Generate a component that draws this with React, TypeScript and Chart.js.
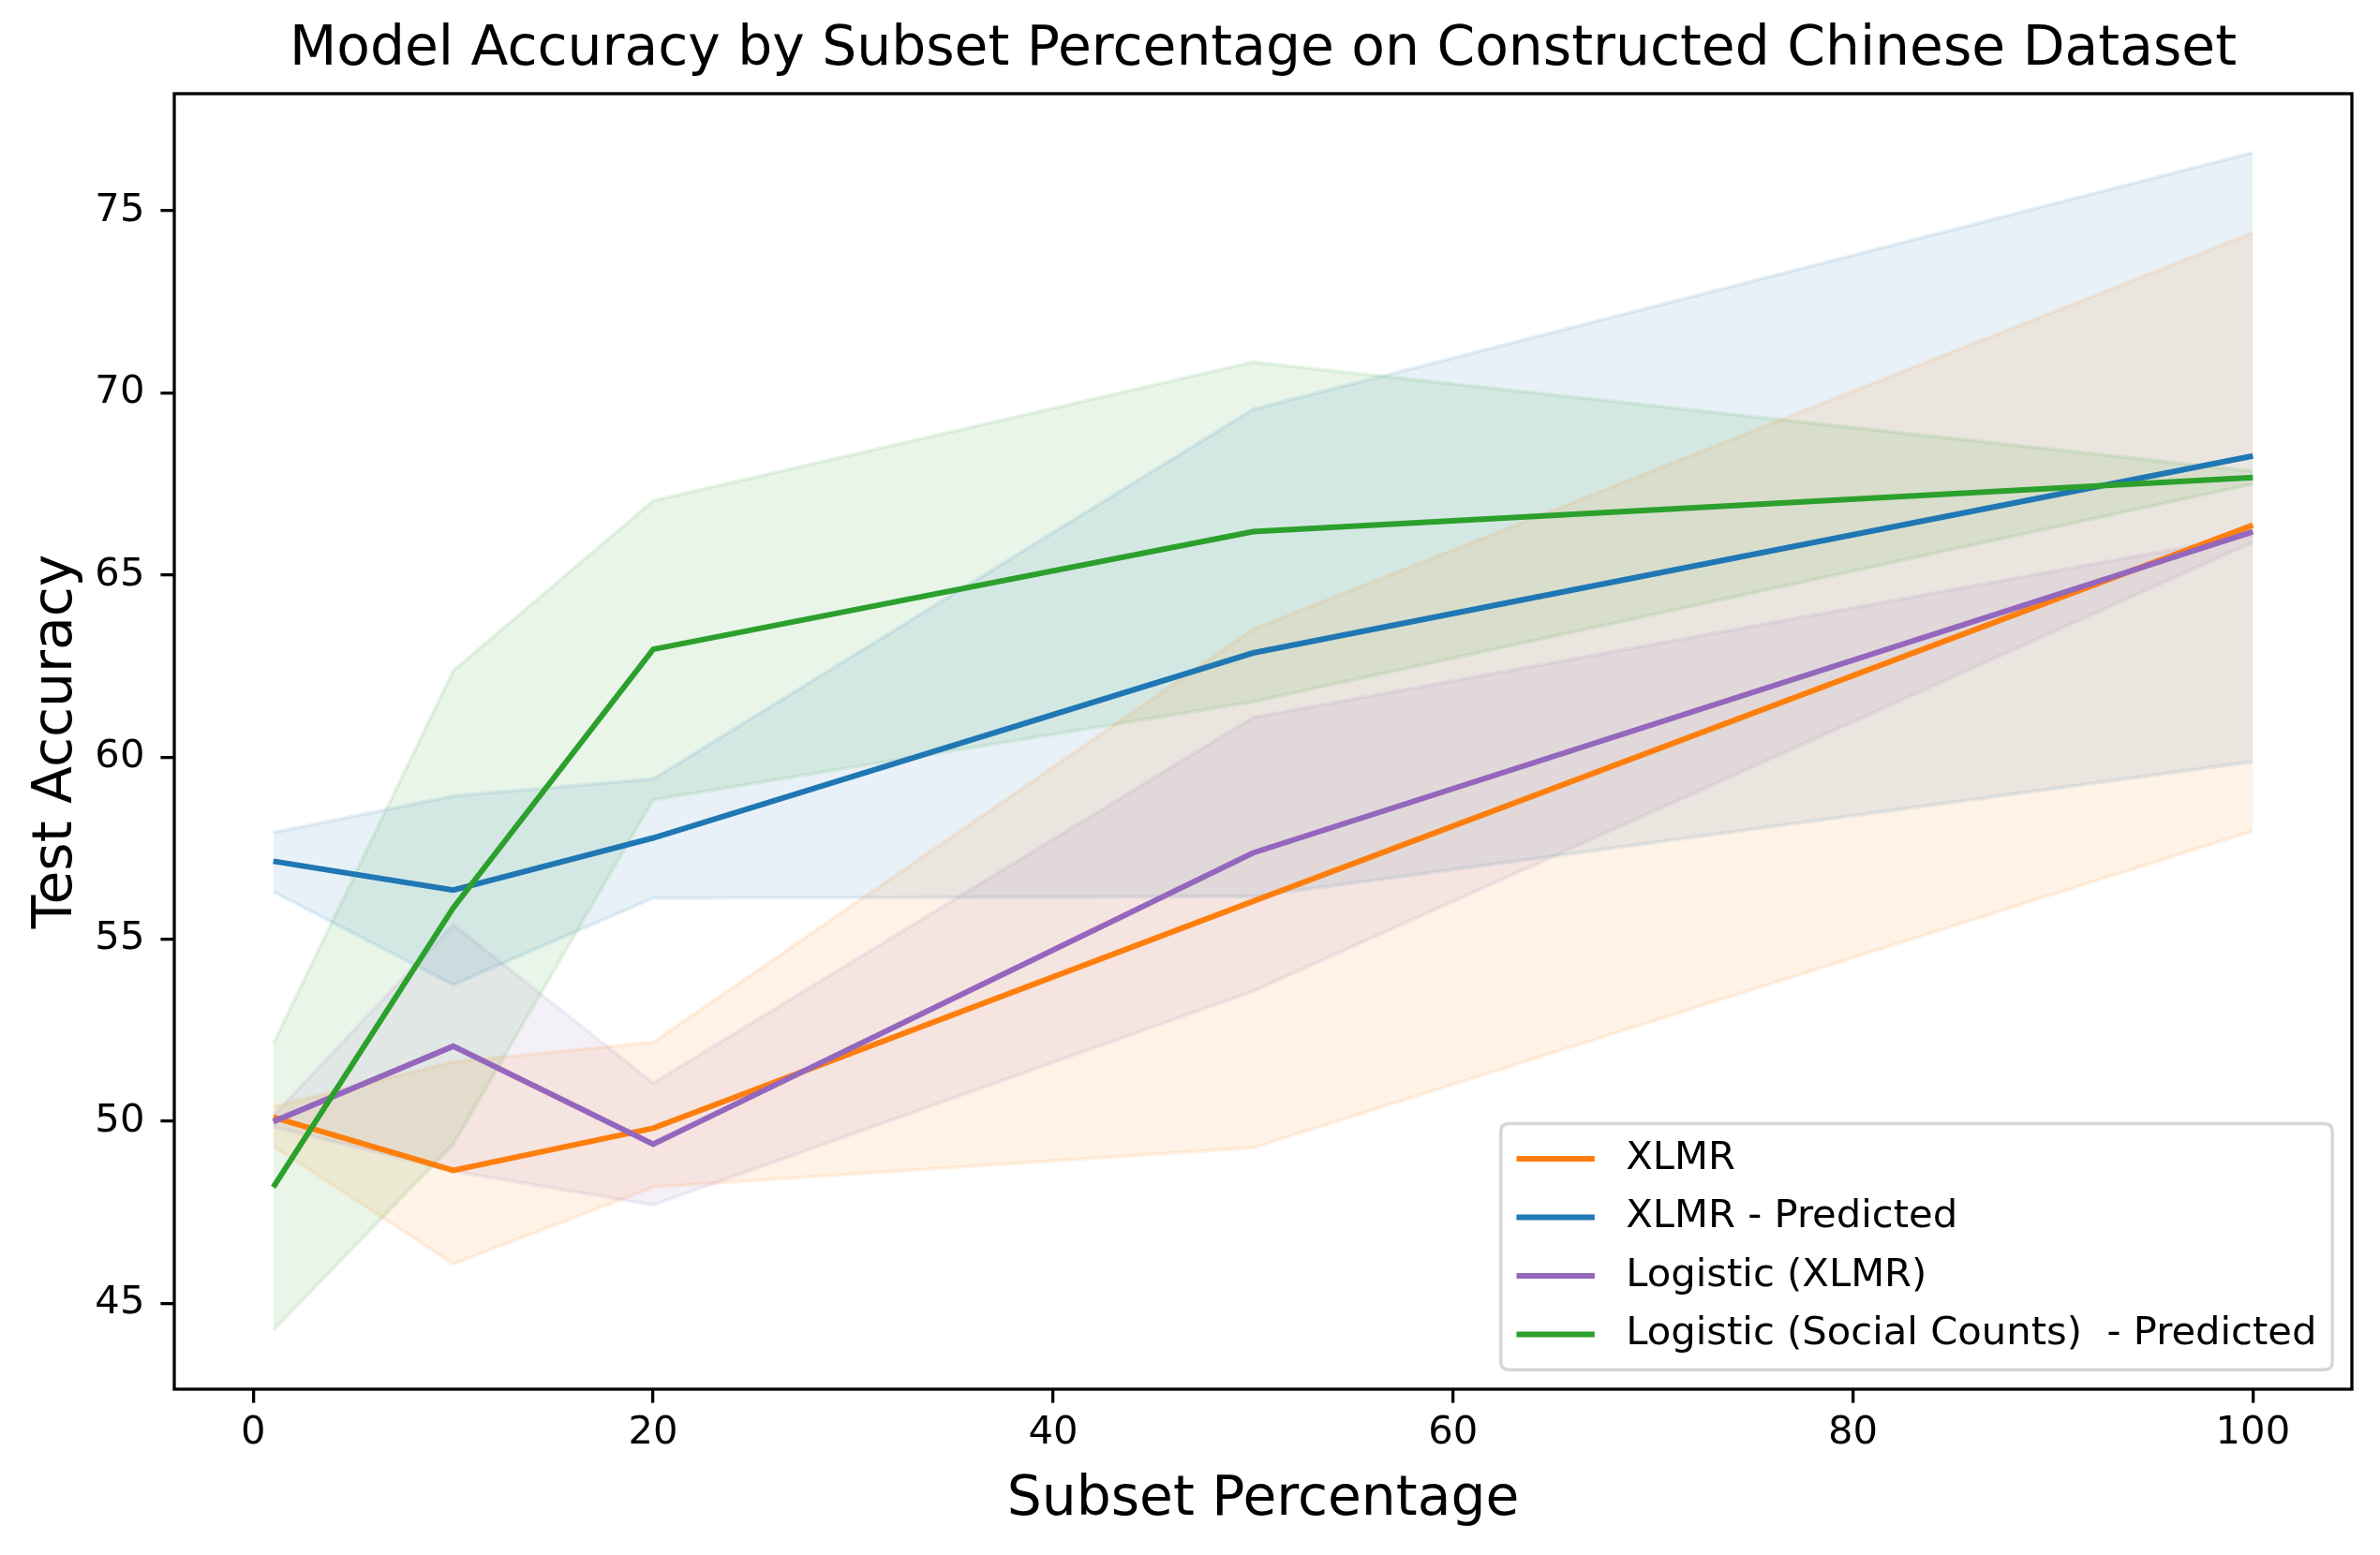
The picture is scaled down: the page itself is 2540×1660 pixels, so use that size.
import React, { useEffect, useRef } from "react";
import { Chart, registerables } from "chart.js";

Chart.register(...registerables);

// ---------- data ----------
const subsetPct = [1, 10, 20, 50, 100];

const xlmrMean = [50.11, 48.65, 49.81, 56.04, 66.37];
const xlmrLow = [49.32, 46.08, 48.19, 49.27, 57.97];
const xlmrHigh = [50.4, 51.63, 52.17, 63.51, 74.4];

const xlmrPredMean = [57.14, 56.35, 57.78, 62.86, 68.27];
const xlmrPredLow = [56.3, 53.75, 56.13, 56.17, 59.87];
const xlmrPredHigh = [57.93, 58.93, 59.4, 69.55, 76.6];

const logXlmrMean = [49.99, 52.06, 49.37, 57.37, 66.19];
const logXlmrLow = [49.85, 48.63, 47.7, 53.57, 65.9];
const logXlmrHigh = [50.15, 55.4, 51.05, 61.09, 66.1];

const logSocialMean = [48.19, 55.86, 62.96, 66.19, 67.68];
const logSocialLow = [44.26, 49.37, 58.83, 61.52, 67.5];
const logSocialHigh = [52.13, 62.37, 67.04, 70.85, 67.85];

const seriesLabels = [
  "XLMR",
  "XLMR - Predicted",
  "Logistic (XLMR)",
  "Logistic (Social Counts)  - Predicted",
];

const xTicks = [0, 20, 40, 60, 80, 100];
const yTicks = [45, 50, 55, 60, 65, 70, 75];

const chartTitle = "Model Accuracy by Subset Percentage on Constructed Chinese Dataset";
const xTitle = "Subset Percentage";
const yTitle = "Test Accuracy";

// ---------- styles ----------
const FONT = "'DejaVu Sans', 'Liberation Sans', sans-serif";
const seriesRgb = [
  [255, 127, 14],
  [31, 119, 180],
  [148, 103, 189],
  [44, 160, 44],
];
const rgba = (c: number[], a: number) => `rgba(${c[0]},${c[1]},${c[2]},${a})`;

const series = [
  { mean: xlmrMean, low: xlmrLow, high: xlmrHigh },
  { mean: xlmrPredMean, low: xlmrPredLow, high: xlmrPredHigh },
  { mean: logXlmrMean, low: logXlmrLow, high: logXlmrHigh },
  { mean: logSocialMean, low: logSocialLow, high: logSocialHigh },
];

const pts = (ys: number[]) => subsetPct.map((x, i) => ({ x, y: ys[i] }));

const LINE_W = 6;
const TICK_FS = 41.7;
const LABEL_FS = 58.3;

const frameTitleLegend = {
  id: "frameTitleLegend",
  afterDatasetsDraw(chart: any) {
    const { ctx, chartArea } = chart;
    ctx.save();
    ctx.strokeStyle = "#000";
    ctx.lineWidth = 3.3;
    ctx.strokeRect(chartArea.left, chartArea.top, chartArea.right - chartArea.left, chartArea.bottom - chartArea.top);
    ctx.restore();
  },
  afterDraw(chart: any) {
    const { ctx, chartArea } = chart;
    ctx.save();
    // title centred over the axes
    ctx.font = `${LABEL_FS}px ${FONT}`;
    ctx.fillStyle = "#000";
    ctx.textAlign = "center";
    ctx.textBaseline = "middle";
    ctx.fillText(chartTitle, (chartArea.left + chartArea.right) / 2, chartArea.top - 46);

    // legend (lower right)
    const fs = TICK_FS;
    const pad = 0.4 * fs;
    const handleLen = 2 * fs;
    const handlePad = 0.8 * fs;
    const spacing = 0.5 * fs;
    const axPad = 0.5 * fs;
    ctx.font = `${fs}px ${FONT}`;
    let maxW = 0;
    seriesLabels.forEach((t) => {
      maxW = Math.max(maxW, ctx.measureText(t).width);
    });
    const w = 2 * pad + handleLen + handlePad + maxW;
    const h = 2 * pad + seriesLabels.length * fs + (seriesLabels.length - 1) * spacing;
    const right = chartArea.right - axPad;
    const bottom = chartArea.bottom - axPad;
    const left = right - w;
    const top = bottom - h;
    const r = 0.2 * fs;
    ctx.beginPath();
    ctx.moveTo(left + r, top);
    ctx.lineTo(right - r, top);
    ctx.quadraticCurveTo(right, top, right, top + r);
    ctx.lineTo(right, bottom - r);
    ctx.quadraticCurveTo(right, bottom, right - r, bottom);
    ctx.lineTo(left + r, bottom);
    ctx.quadraticCurveTo(left, bottom, left, bottom - r);
    ctx.lineTo(left, top + r);
    ctx.quadraticCurveTo(left, top, left + r, top);
    ctx.closePath();
    ctx.fillStyle = "rgba(255,255,255,0.8)";
    ctx.fill();
    ctx.strokeStyle = "rgba(204,204,204,0.8)";
    ctx.lineWidth = 3.5;
    ctx.stroke();

    seriesLabels.forEach((t, i) => {
      const cy = top + pad + fs / 2 + i * (fs + spacing);
      ctx.strokeStyle = rgba(seriesRgb[i], 1);
      ctx.lineWidth = LINE_W;
      ctx.beginPath();
      ctx.moveTo(left + pad, cy);
      ctx.lineTo(left + pad + handleLen, cy);
      ctx.stroke();
      ctx.fillStyle = "#000";
      ctx.textAlign = "left";
      ctx.textBaseline = "middle";
      ctx.fillText(t, left + pad + handleLen + handlePad, cy);
    });
    ctx.restore();
  },
};

export default function App() {
  const ref = useRef<HTMLCanvasElement | null>(null);

  useEffect(() => {
    if (!ref.current) return;
    const datasets: any[] = [];
    series.forEach((s, i) => {
      const c = seriesRgb[i];
      datasets.push({
        label: seriesLabels[i] + " upper",
        data: pts(s.high),
        borderColor: rgba(c, 0.1),
        borderWidth: 4,
        pointRadius: 0,
        fill: false,
        tension: 0,
        order: 20,
      });
      datasets.push({
        label: seriesLabels[i] + " lower",
        data: pts(s.low),
        borderColor: rgba(c, 0.1),
        backgroundColor: rgba(c, 0.1),
        borderWidth: 4,
        pointRadius: 0,
        fill: "-1",
        tension: 0,
        order: 20,
      });
    });
    series.forEach((s, i) => {
      datasets.push({
        label: seriesLabels[i],
        data: pts(s.mean),
        borderColor: rgba(seriesRgb[i], 1),
        backgroundColor: rgba(seriesRgb[i], 1),
        borderWidth: LINE_W,
        pointRadius: 0,
        fill: false,
        tension: 0,
        order: 4 - i,
      });
    });

    const allY = series.flatMap((s) => [...s.low, ...s.high, ...s.mean]);
    const yMinD = Math.min(...allY);
    const yMaxD = Math.max(...allY);
    const yM = (yMaxD - yMinD) * 0.05;
    const xMinD = Math.min(...subsetPct);
    const xMaxD = Math.max(...subsetPct);
    const xM = (xMaxD - xMinD) * 0.05;

    const tickFont = { family: FONT, size: TICK_FS, weight: "normal" as const };
    const labelFont = { family: FONT, size: LABEL_FS, weight: "normal" as const, lineHeight: 1.2 };

    const chart = new Chart(ref.current, {
      type: "line",
      data: { datasets },
      plugins: [frameTitleLegend],
      options: {
        animation: false,
        responsive: false,
        devicePixelRatio: 1,
        layout: { padding: { left: 0, right: 30, top: 100, bottom: 0 } },
        plugins: {
          legend: { display: false },
          tooltip: { enabled: false },
          filler: { drawTime: "beforeDatasetsDraw" },
          title: { display: false },
        },
        scales: {
          x: {
            type: "linear",
            min: xMinD - xM,
            max: xMaxD + xM,
            afterBuildTicks: (s: any) => {
              s.ticks = xTicks.map((v) => ({ value: v }));
            },
            afterFit: (s: any) => {
              s.height = 177;
            },
            ticks: {
              font: tickFont,
              color: "#000",
              padding: 8,
              maxRotation: 0,
              autoSkip: false,
              callback: (v: any) => String(v),
            },
            grid: {
              drawOnChartArea: false,
              drawTicks: true,
              tickLength: 14.6,
              color: "#000",
              lineWidth: 3.3,
            },
            border: { display: false },
            title: {
              display: true,
              text: xTitle,
              color: "#000",
              font: labelFont,
              padding: { top: 0, bottom: 23 },
            },
          },
          y: {
            type: "linear",
            min: yMinD - yM,
            max: yMaxD + yM,
            afterBuildTicks: (s: any) => {
              s.ticks = yTicks.map((v) => ({ value: v }));
            },
            afterFit: (s: any) => {
              s.width = 186;
            },
            ticks: {
              font: tickFont,
              color: "#000",
              padding: 17,
              autoSkip: false,
              callback: (v: any) => String(v),
            },
            grid: {
              drawOnChartArea: false,
              drawTicks: true,
              tickLength: 14.6,
              color: "#000",
              lineWidth: 3.3,
            },
            border: { display: false },
            title: {
              display: true,
              text: yTitle,
              color: "#000",
              font: labelFont,
              padding: { top: 26, bottom: 0 },
            },
          },
        },
      },
    } as any);
    return () => chart.destroy();
  }, []);

  return (
    <div style={{ position: "fixed", left: 0, top: 0, width: 2540, height: 1660, background: "#fff" }}>
      <canvas ref={ref} width={2540} height={1660} style={{ width: 2540, height: 1660, display: "block" }} />
    </div>
  );
}
